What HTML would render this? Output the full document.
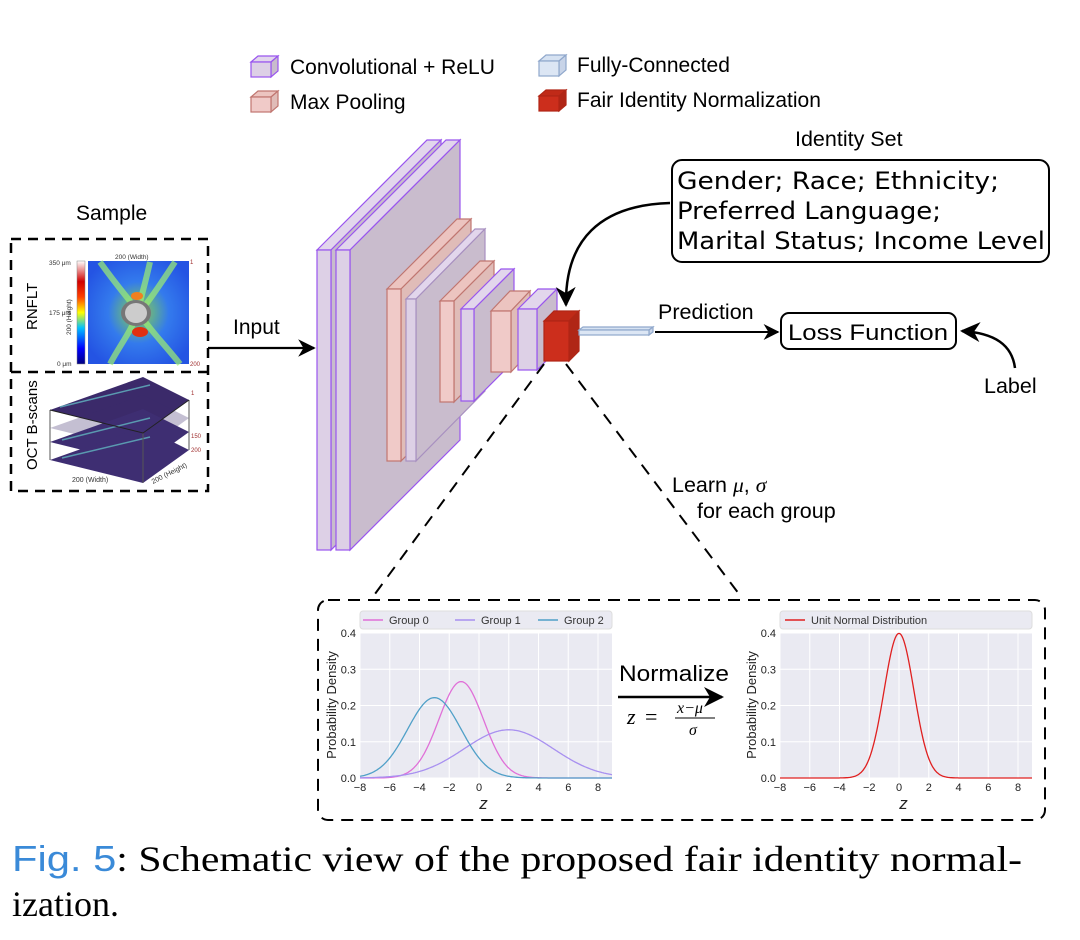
<!DOCTYPE html>
<html><head><meta charset="utf-8">
<style>
html,body{margin:0;padding:0;background:#fff;}
svg{display:block;}
text{font-family:"Liberation Sans",sans-serif;}
.dj{font-family:"DejaVu Sans","Liberation Sans",sans-serif;}
.sf{font-family:"Liberation Serif",serif;}
.si{font-family:"Liberation Serif",serif;font-style:italic;}
.ss{font-family:"Liberation Sans",sans-serif;}
</style></head>
<body>
<svg id="s" width="1080" height="940" viewBox="0 0 1080 940" xmlns="http://www.w3.org/2000/svg">
<defs>
<marker id="ah" viewBox="0 0 10 10" refX="9" refY="5" markerWidth="8" markerHeight="8" orient="auto"><path d="M0,0 L10,5 L0,10 L3,5 z" fill="#000"/></marker>
<linearGradient id="cb" x1="0" y1="1" x2="0" y2="0">
<stop offset="0" stop-color="#000080"/><stop offset="0.15" stop-color="#0000ff"/><stop offset="0.35" stop-color="#00c0ff"/><stop offset="0.5" stop-color="#ffff00"/><stop offset="0.65" stop-color="#ff4000"/><stop offset="0.8" stop-color="#d00000"/><stop offset="1" stop-color="#ffffff"/>
</linearGradient>
<radialGradient id="hm" cx="0.5" cy="0.5" r="0.6">
<stop offset="0" stop-color="#ffe000"/><stop offset="0.25" stop-color="#80e060"/><stop offset="0.5" stop-color="#3a90f0"/><stop offset="1" stop-color="#2050e0"/>
</radialGradient>
</defs>

<g id="legend"></g>
<text x="290" y="74" font-size="21">Convolutional + ReLU</text>
<text x="290" y="109" font-size="21">Max Pooling</text>
<text x="577" y="72" font-size="21">Fully-Connected</text>
<text x="577" y="107" font-size="21">Fair Identity Normalization</text>

<text x="76" y="220" font-size="21">Sample</text>
<rect x="11" y="239" width="197" height="252" fill="none" stroke="#000" stroke-width="2.5" stroke-dasharray="10,7"/>
<line x1="11" y1="372" x2="208" y2="372" stroke="#000" stroke-width="2.5" stroke-dasharray="10,7"/>
<rect x="77" y="261" width="8" height="103" fill="url(#cb)" stroke="#888" stroke-width="0.5"/>
<rect x="88" y="261" width="101" height="103" fill="#2a5ae8"/>
<rect x="88" y="261" width="101" height="103" fill="url(#hm)" opacity="0.6"/>
<path d="M100,262 C120,290 130,300 138,312 M150,262 C145,285 140,300 138,312 M138,312 C132,330 120,345 110,364 M138,312 C150,330 165,345 180,364 M175,262 C160,285 150,300 140,312" stroke="#9ef070" stroke-width="6" fill="none" opacity="0.7"/>
<ellipse cx="136" cy="313" rx="15" ry="13" fill="#777"/>
<ellipse cx="136" cy="313" rx="11" ry="10" fill="#ccc"/>
<ellipse cx="140" cy="332" rx="8" ry="5" fill="#e03010"/>
<ellipse cx="137" cy="296" rx="6" ry="4" fill="#f08020"/>
<text x="115" y="259" font-size="6.5" fill="#333">200 (Width)</text>
<text x="49" y="265" font-size="6.5" fill="#333">350 μm</text>
<text x="49" y="315" font-size="6.5" fill="#333">175 μm</text>
<text x="57" y="366" font-size="6.5" fill="#333">0 μm</text>
<text x="190" y="264" font-size="6" fill="#a03030">1</text>
<text x="190" y="366" font-size="6" fill="#a03030">200</text>
<text transform="translate(37,330) rotate(-90)" font-size="15">RNFLT</text>
<text transform="translate(71,335) rotate(-90)" font-size="6.5" fill="#333">200 (Height)</text>
<g>
<polygon points="50,410 143,377 189,400 143,433" fill="#3b2a6a"/>
<polygon points="50,428 143,395 189,418 143,451" fill="#3b2a6a" opacity="0.3"/>
<polygon points="50,442 143,409 189,432 143,465" fill="#3e2e72"/>
<polygon points="50,460 143,427 189,450 143,483" fill="#3e2e72"/>
<path d="M60,407 L150,385 M62,440 L150,418 M62,458 L150,437" stroke="#5a9ab0" stroke-width="1.5"/>
<line x1="50" y1="410" x2="50" y2="460" stroke="#555"/>
<line x1="143" y1="433" x2="143" y2="483" stroke="#555"/>
<line x1="189" y1="400" x2="189" y2="450" stroke="#555"/>
<polyline points="50,410 143,433 189,400" fill="none" stroke="#222"/>
</g>
<text transform="translate(37,470) rotate(-90)" font-size="15">OCT B-scans</text>
<text x="72" y="482" font-size="7" fill="#333">200 (Width)</text>
<text transform="translate(153,484) rotate(-27)" font-size="7" fill="#333">200 (Height)</text>
<text x="191" y="395" font-size="6" fill="#a03030">1</text>
<text x="191" y="438" font-size="6" fill="#a03030">150</text>
<text x="191" y="452" font-size="6" fill="#a03030">200</text>

<text x="233" y="334" font-size="21">Input</text>
<line x1="208" y1="348" x2="314" y2="348" stroke="#000" stroke-width="2.2" marker-end="url(#ah)"/>

<g id="cnn"></g>

<text x="795" y="146" font-size="21.5">Identity Set</text>
<rect x="672" y="160" width="377" height="102" rx="10" fill="#fff" stroke="#000" stroke-width="2"/>
<text class="dj" x="677" y="189" font-size="24" textLength="322" lengthAdjust="spacingAndGlyphs">Gender; Race; Ethnicity;</text>
<text class="dj" x="677" y="219" font-size="24" textLength="264" lengthAdjust="spacingAndGlyphs">Preferred Language;</text>
<text class="dj" x="677" y="249" font-size="24" textLength="368" lengthAdjust="spacingAndGlyphs">Marital Status; Income Level</text>
<path d="M670,203 C600,205 565,240 566,305" fill="none" stroke="#000" stroke-width="2.5" marker-end="url(#ah)"/>

<text x="658" y="319" font-size="21.5">Prediction</text>
<line x1="655" y1="332" x2="778" y2="332" stroke="#000" stroke-width="2" marker-end="url(#ah)"/>
<rect x="781" y="313" width="175" height="36" rx="8" fill="#fff" stroke="#000" stroke-width="2"/>
<text x="788" y="340" font-size="22" textLength="160" lengthAdjust="spacingAndGlyphs">Loss Function</text>
<path d="M1015,368 C1012,345 995,333 962,331" fill="none" stroke="#000" stroke-width="2.5" marker-end="url(#ah)"/>
<text x="984" y="393" font-size="21.5">Label</text>

<line x1="544" y1="364" x2="372" y2="598" stroke="#000" stroke-width="2" stroke-dasharray="12,9"/>
<line x1="566" y1="364" x2="742" y2="598" stroke="#000" stroke-width="2" stroke-dasharray="12,9"/>
<text x="672" y="492" font-size="21.5">Learn <tspan class="si">μ</tspan>, <tspan class="si">σ</tspan></text>
<text x="697" y="518" font-size="21.5">for each group</text>

<rect x="318" y="600" width="727" height="220" rx="10" fill="none" stroke="#000" stroke-width="2" stroke-dasharray="12,8"/>

<g id="plots"></g>

<text x="619" y="681" font-size="22" textLength="110" lengthAdjust="spacingAndGlyphs">Normalize</text>
<line x1="618" y1="697" x2="722" y2="697" stroke="#000" stroke-width="2.5" marker-end="url(#ah)"/>
<text x="627" y="724" font-size="22" class="si">z</text>
<text x="645" y="724" font-size="22" class="sf">=</text>
<text x="677" y="713" font-size="16" class="si">x−μ</text>
<line x1="675" y1="718" x2="715" y2="718" stroke="#000" stroke-width="1"/>
<text x="689" y="735" font-size="16" class="si">σ</text>

<text x="12" y="871" font-size="36" class="sf" textLength="1010" lengthAdjust="spacingAndGlyphs"><tspan fill="#3a8ad8" class="ss">Fig. 5</tspan>: Schematic view of the proposed fair identity normal-</text>
<text x="12" y="916" font-size="36" class="sf">ization.</text>
</svg>
<script>
var NS="http://www.w3.org/2000/svg";
function el(p,t,a){var e=document.createElementNS(NS,t);for(var k in a)e.setAttribute(k,a[k]);p.appendChild(e);return e;}
function cube(g,x,y,w,h,dx,dy,fill,side,top,st){
 el(g,"polygon",{points:[x,y, x+dx,y-dy, x+w+dx,y-dy, x+w,y].join(","),fill:top,stroke:st,"stroke-width":1.2});
 el(g,"polygon",{points:[x+w,y, x+w+dx,y-dy, x+w+dx,y+h-dy, x+w,y+h].join(","),fill:side,stroke:st,"stroke-width":1.2});
 el(g,"rect",{x:x,y:y,width:w,height:h,fill:fill,stroke:st,"stroke-width":1.2});
}
var L=document.getElementById("legend");
var CV=["#ddd0e6","#c8bccc","#e2d6ec","#9955ee"], MP=["#f0cac8","#e0bcb8","#ecc4c0","#c07670"],
 FC=["#dce6f4","#c8d4e8","#d6e2f2","#90a8cc"], FN=["#cc2e1c","#b02616","#c02a18","#b02616"];
cube(L,251,62,20,15,7,6,CV[0],CV[1],CV[2],CV[3]);
cube(L,251,97,20,15,7,6,MP[0],MP[1],MP[2],MP[3]);
cube(L,539,61,20,15,7,6,FC[0],FC[1],FC[2],FC[3]);
cube(L,539,96,20,15,7,6,FN[0],FN[1],FN[2],FN[3]);
var C=document.getElementById("cnn");
cube(C,317,250,14,300,110,110,CV[0],CV[1],CV[2],CV[3]);
cube(C,336,250,14,300,110,110,CV[0],"#c9bccd",CV[2],CV[3]);
cube(C,387,289,14,172,70,70,MP[0],MP[1],MP[2],MP[3]);
cube(C,406,299,10,162,69,70,CV[0],"#c9bccd",CV[2],"#a890c0");
cube(C,440,301,14,101,40,40,MP[0],MP[1],MP[2],MP[3]);
cube(C,461,309,13,92,40,40,CV[0],"#c9bccd",CV[2],CV[3]);
cube(C,491,311,20,61,19,20,MP[0],MP[1],MP[2],MP[3]);
cube(C,518,309,19,61,20,20,CV[0],"#c9bccd",CV[2],CV[3]);
cube(C,544,321,25,40,10,10,FN[0],FN[1],FN[2],FN[3]);
cube(C,579,330,70,5,4,3,FC[0],FC[1],FC[2],FC[3]);

var P=document.getElementById("plots");
function plot(x0,curves,legend){
 var x1=x0+252,yt=633,yb=778,sx=(238)/16,sy=362.5;
 el(P,"rect",{x:x0,y:yt,width:252,height:145,fill:"#eaeaf2"});
 for(var v=-8;v<=8;v+=2){var X=x0+(v+8)*sx;el(P,"line",{x1:X,y1:yt,x2:X,y2:yb,stroke:"#fff","stroke-width":1});
  var t=el(P,"text",{x:X,y:yb+13,"font-size":11,"text-anchor":"middle",fill:"#222"});t.textContent=(v<0?"−":"")+Math.abs(v);}
 for(var k=0;k<=4;k++){var Y=yb-k*0.1*sy;el(P,"line",{x1:x0,y1:Y,x2:x1,y2:Y,stroke:"#fff","stroke-width":1});
  var t=el(P,"text",{x:x0-4,y:Y+4,"font-size":11,"text-anchor":"end",fill:"#222"});t.textContent=(k/10).toFixed(1);}
 curves.forEach(function(c){var d="";for(var i=0;i<=252;i++){var v=-8+i/sx;var p=Math.exp(-0.5*Math.pow((v-c[0])/c[1],2))/(c[1]*2.5066);d+=(i?"L":"M")+(x0+i)+","+(yb-p*sy).toFixed(1);}
  el(P,"path",{d:d,fill:"none",stroke:c[2],"stroke-width":1.3});});
 var t=el(P,"text",{x:x0+(0.3+8)*sx,y:yb+31,"font-size":17,"font-style":"italic","text-anchor":"middle",fill:"#222"});t.textContent="z";
 t=el(P,"text",{transform:"translate("+(x0-24)+",705) rotate(-90)","font-size":13,"text-anchor":"middle",fill:"#222"});t.textContent="Probability Density";
 el(P,"rect",{x:x0,y:611,width:252,height:18,rx:3,fill:"#eaeaf2",stroke:"#ddd"});
 legend.forEach(function(l){el(P,"line",{x1:l[0],y1:620,x2:l[0]+20,y2:620,stroke:l[2],"stroke-width":1.5});
  var t=el(P,"text",{x:l[0]+26,y:624,"font-size":11,fill:"#333"});t.textContent=l[1];});
}
plot(360,[[-1.2,1.5,"#e070d8"],[2,3,"#a890f0"],[-3,1.8,"#50a0c8"]],[[363,"Group 0","#e070d8"],[455,"Group 1","#a890f0"],[538,"Group 2","#50a0c8"]]);
plot(780,[[0,1,"#e02020"]],[[785,"Unit Normal Distribution","#e02020"]]);
</script>
</body></html>
